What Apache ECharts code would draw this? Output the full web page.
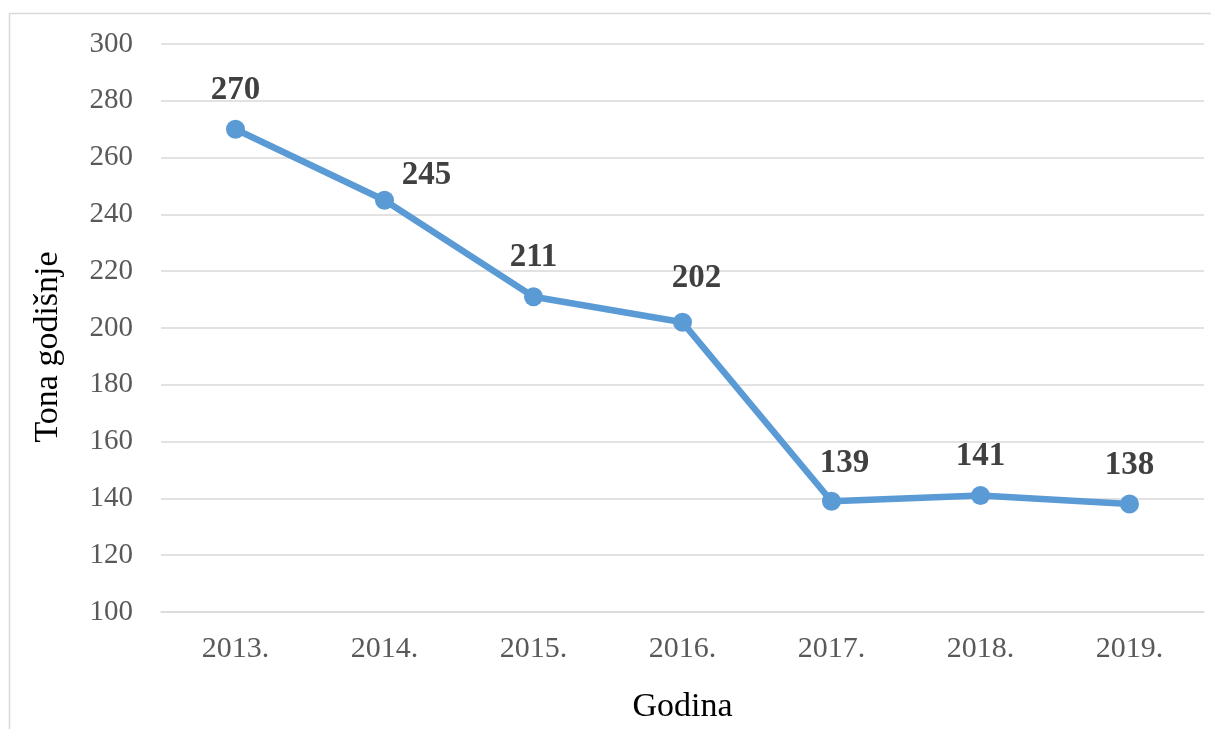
<!DOCTYPE html>
<html>
<head>
<meta charset="utf-8">
<script src="https://cdn.jsdelivr.net/npm/echarts@6/dist/echarts.min.js"></script>
<style>
  html, body { margin: 0; padding: 0; background: #fff; }
  #chart { width: 1211px; height: 729px; }
</style>
</head>
<body>
<div id="chart"></div>
<script>
// data
var years = ['2013.', '2014.', '2015.', '2016.', '2017.', '2018.', '2019.'];
var tons = [270, 245, 211, 202, 139, 141, 138];
// label nudges, so labels sit like in the original
var labelShift = [[0, 0], [42, 14], [0, 0], [14, -5], [13, 1], [0, 0], [0, 0]];

var serif = '"Liberation Serif", "Times New Roman", serif';

var chart = echarts.init(document.getElementById('chart'));

var seriesData = tons.map(function (v, i) {
  return { value: v, label: { offset: labelShift[i] } };
});

var option = {
  backgroundColor: '#fff',
  animation: false,
  graphic: [
    {
      type: 'rect',
      shape: { x: 9.5, y: 13.5, width: 1300, height: 800 },
      style: { fill: 'none', stroke: '#d9d9d9', lineWidth: 1.5 },
      silent: true
    }
  ],
  grid: {
    left: 161,
    right: 7,
    top: 44,
    bottom: 117
  },
  xAxis: {
    type: 'category',
    data: years,
    boundaryGap: true,
    name: 'Godina',
    nameLocation: 'middle',
    nameGap: 78,
    nameTextStyle: { color: '#000', fontSize: 34, fontFamily: serif },
    axisLine: { show: true, lineStyle: { color: '#d9d9d9', width: 1.5 } },
    axisTick: { show: false },
    axisLabel: { color: '#595959', fontSize: 30, fontFamily: serif, margin: 22 }
  },
  yAxis: {
    type: 'value',
    min: 100,
    max: 300,
    interval: 20,
    name: 'Tona godišnje',
    nameLocation: 'middle',
    nameGap: 96,
    // pushed down a bit, the original title sits below the middle
    nameTextStyle: { color: '#000', fontSize: 34, fontFamily: serif, padding: [0, 38, 0, 0] },
    axisLine: { show: false },
    axisTick: { show: false },
    splitLine: { lineStyle: { color: '#d9d9d9', width: 1.5 } },
    axisLabel: { color: '#595959', fontSize: 29, fontFamily: serif, margin: 28 }
  },
  series: [
    {
      type: 'line',
      data: seriesData,
      symbol: 'circle',
      symbolSize: 19,
      itemStyle: { color: '#5b9bd5' },
      lineStyle: { color: '#5b9bd5', width: 6.5 },
      label: {
        show: true,
        position: 'top',
        distance: 13,
        color: '#404040',
        fontSize: 33,
        fontWeight: 'bold',
        fontFamily: serif
      }
    }
  ]
};

chart.setOption(option);
</script>
</body>
</html>
